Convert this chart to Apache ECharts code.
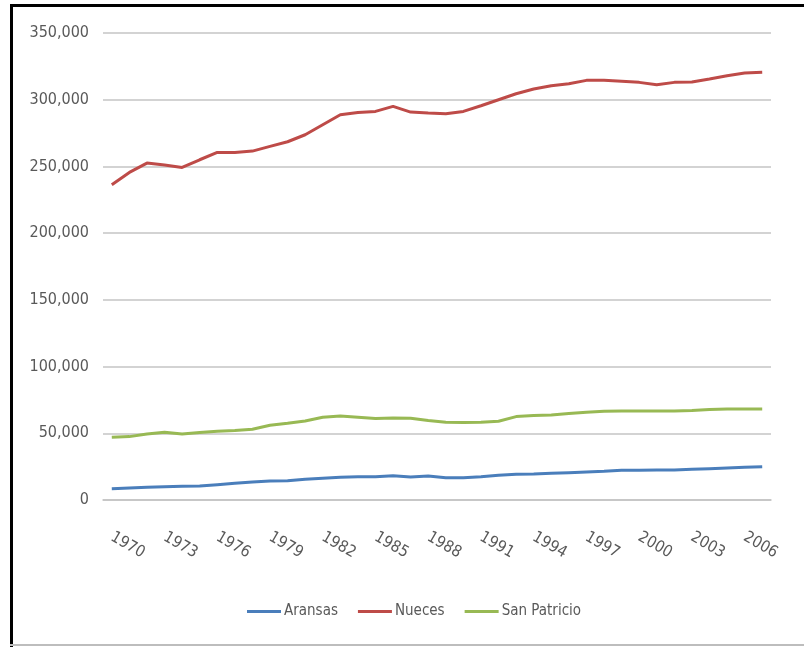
<!DOCTYPE html>
<html>
<head>
<meta charset="utf-8">
<script src="https://cdn.jsdelivr.net/npm/echarts@6/dist/echarts.min.js"></script>
<style>
  html, body { margin: 0; padding: 0; background: #fff; }
  #container { width: 804px; height: 647px; }
</style>
</head>
<body>
<div id="container"></div>
<script>
/* Data */
var years = ['1970', '1971', '1972', '1973', '1974', '1975', '1976', '1977', '1978', '1979',
             '1980', '1981', '1982', '1983', '1984', '1985', '1986', '1987', '1988', '1989',
             '1990', '1991', '1992', '1993', '1994', '1995', '1996', '1997', '1998', '1999',
             '2000', '2001', '2002', '2003', '2004', '2005', '2006', '2007'];

var aransas = [8500, 9000, 9500, 10000, 10250, 10500, 11500, 12500, 13500, 14250,
               14500, 15500, 16250, 17000, 17500, 17500, 18250, 17250, 18000, 16750,
               16750, 17500, 18500, 19250, 19500, 20000, 20500, 21000, 21500, 22250,
               22250, 22500, 22500, 23000, 23500, 24000, 24500, 25000];

var nueces = [236250, 245500, 252500, 251000, 249250, 255000, 260500, 260500, 261500, 265000,
              268500, 273750, 281250, 288750, 290500, 291250, 295000, 290750, 290000, 289500,
              291250, 295500, 300000, 304500, 308000, 310500, 312000, 314500, 314500, 313750,
              313000, 311250, 313000, 313250, 315500, 318000, 320000, 320500];

var sanPatricio = [47000, 47500, 49500, 50750, 49500, 50500, 51500, 52000, 53000, 56000,
                   57500, 59250, 62000, 63000, 62000, 61000, 61500, 61250, 59500, 58250,
                   58000, 58250, 59000, 62500, 63250, 63750, 64750, 65750, 66500, 66750,
                   66750, 66750, 66750, 67000, 67750, 68250, 68250, 68250];

var seriesNames = ['Aransas', 'Nueces', 'San Patricio'];
var seriesColors = ['#4a7ebb', '#be4b48', '#98b954'];

var font = "'Liberation Sans Narrow', 'DejaVu Sans Condensed', sans-serif";
var textGrey = '#595959';

var myChart = echarts.init(document.getElementById('container'), null, { renderer: 'canvas' });

function makeLine(name, values, color) {
    return {
        name: name,
        type: 'line',
        data: values,
        symbol: 'none',
        smooth: false,
        color: color,
        lineStyle: { width: 3, color: color }
    };
}

var option = {
    backgroundColor: '#fff',
    animation: false,
    textStyle: { fontFamily: font },
    grid: { left: 103, right: 33, top: 33, bottom: 147, containLabel: false },
    legend: {
        data: seriesNames,
        left: 247,
        top: 604,
        padding: 0,
        icon: 'rect',
        itemWidth: 34,
        itemHeight: 3,
        itemGap: 20,
        textStyle: { fontFamily: font, fontSize: 15, color: textGrey, padding: [0, 0, 0, -2] }
    },
    xAxis: {
        type: 'category',
        data: years,
        boundaryGap: true,
        axisLine: { lineStyle: { color: '#c4c4c4', width: 1.5 } },
        axisTick: { show: false },
        axisLabel: {
            interval: 2,
            rotate: -30,
            margin: 36,
            fontFamily: font,
            fontSize: 16,
            color: textGrey
        }
    },
    yAxis: {
        type: 'value',
        min: 0,
        max: 350000,
        interval: 50000,
        axisLine: { show: false },
        axisTick: { show: false },
        splitLine: { lineStyle: { color: '#c4c4c4', width: 1.5 } },
        axisLabel: {
            margin: 14,
            fontFamily: font,
            fontSize: 16,
            color: textGrey,
            formatter: function (v) { return v.toLocaleString('en-US'); }
        }
    },
    /* frame round the picture */
    graphic: [
        { type: 'rect', shape: { x: 10, y: 4, width: 794, height: 3 }, style: { fill: '#000' }, silent: true },
        { type: 'rect', shape: { x: 10, y: 4, width: 3, height: 643 }, style: { fill: '#000' }, silent: true },
        { type: 'rect', shape: { x: 10, y: 644, width: 794, height: 2 }, style: { fill: '#bdbdbd' }, silent: true }
    ],
    series: [
        makeLine(seriesNames[0], aransas, seriesColors[0]),
        makeLine(seriesNames[1], nueces, seriesColors[1]),
        makeLine(seriesNames[2], sanPatricio, seriesColors[2])
    ]
};

myChart.setOption(option);
</script>
</body>
</html>
